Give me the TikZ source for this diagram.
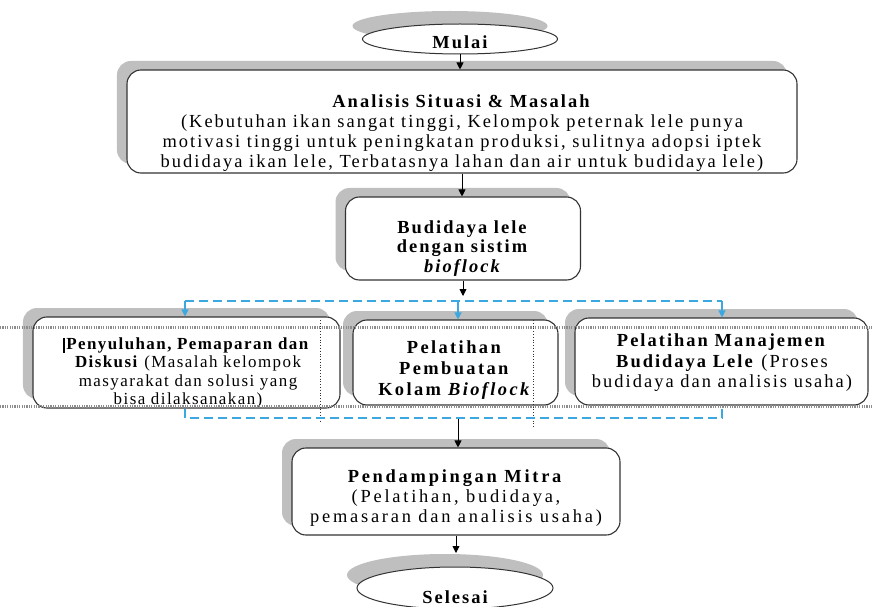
\documentclass[tikz,border=0pt]{standalone}
\usepackage{fontspec}
\setmainfont{Liberation Serif}[LetterSpace=11]
\usetikzlibrary{shapes.geometric,shadows,arrows.meta}
\definecolor{dblue}{HTML}{3CA8E0}
\definecolor{shad}{HTML}{BFBFBF}
\begin{document}
\begin{tikzpicture}[x=1bp,y=-1bp,
  shadowed/.style={general shadow={fill=shad, shadow xshift=-10bp, shadow yshift=9bp}},
  oshadowed/.style={general shadow={fill=shad, shadow xshift=-10bp, shadow yshift=13bp}},
  box/.style={draw=black!80, line width=1.1bp, rounded corners=14bp, fill=white, shadowed, inner sep=0pt},
  oval/.style={ellipse, draw=black!80, line width=1bp, fill=white, oshadowed, inner sep=0pt, font=\fontsize{18.5}{20}\selectfont\bfseries},
  txt/.style={align=center, inner sep=0pt, font=\fontsize{18.5}{20.3}\selectfont},
  arr/.style={-{Triangle[length=7bp,width=7bp]}, line width=0.9bp, black},
  barr/.style={-{Triangle[length=7bp,width=7bp]}, line width=1.2bp, dblue},
  bdash/.style={line width=1.2bp, dblue, dash pattern=on 9bp off 5bp},
  wgrid/.style={line width=3bp, draw=gray!90, dash pattern=on 1.2bp off 1.2bp},
  vgrid/.style={line width=0.8bp, draw=black!80, dotted},
  ]
\useasboundingbox (0,0) rectangle (872,607);

% shapes
\node[oval, minimum width=195bp, minimum height=30bp] (mulai) at (460,39) {\raisebox{-10bp}[0pt][0pt]{Mulai}};

\node[box, minimum width=670bp, minimum height=103bp] (ana) at (462,121.5) {};
\node[txt] (anat) at (462,133) {\textbf{Analisis Situasi \& Masalah}\\
(Kebutuhan ikan sangat tinggi, Kelompok peternak lele punya\\
motivasi tinggi untuk peningkatan produksi, sulitnya adopsi iptek\\
budidaya ikan lele, Terbatasnya lahan dan air untuk budidaya lele)};

\node[box, minimum width=235bp, minimum height=83bp] (bud) at (463,238.5) {};
\node[txt, font=\fontsize{18.5}{19.5}\selectfont] (budt) at (463,248.5) {\textbf{Budidaya lele}\\ \textbf{dengan sistim}\\ \textbf{\textit{bioflock}}};

\node[box, minimum width=307bp, minimum height=91bp] (pen) at (186.5,362.5) {};
\node[txt, font=\fontsize{17}{18.5}\selectfont\addfontfeatures{LetterSpace=8.5}] (pent) at (188,373) {\textbf{Penyuluhan, Pemaparan dan}\\
\textbf{Diskusi} (Masalah kelompok\\
masyarakat dan solusi yang\\
bisa dilaksanakan)};

\node[box, minimum width=205bp, minimum height=85bp] (pel) at (455.5,362.5) {};
\node[txt, font=\fontsize{18.5}{21}\selectfont\addfontfeatures{LetterSpace=13}] (pelt) at (455,370) {\textbf{Pelatihan}\\ \textbf{Pembuatan}\\ \textbf{Kolam \textit{Bioflock}}};

\node[box, minimum width=293bp, minimum height=87bp] (man) at (721.5,361.5) {};
\node[txt, font=\fontsize{18.5}{20.5}\selectfont] (mant) at (722,363) {\textbf{Pelatihan Manajemen}\\
\textbf{Budidaya Lele} (Proses\\
budidaya dan analisis usaha)};

\node[box, minimum width=328bp, minimum height=87bp] (pend) at (456,491.5) {};
\node[txt, font=\fontsize{18.5}{20.3}\selectfont\addfontfeatures{LetterSpace=15}] (pendt) at (456,498) {\textbf{Pendampingan Mitra}\\
(Pelatihan, budidaya,\\
pemasaran dan analisis usaha)};

\node[oval, minimum width=196bp, minimum height=42bp] (sel) at (455,588) {\raisebox{-15bp}[0pt][0pt]{Selesai}};

% word table grid lines
\draw[wgrid] (0,327) -- (872,327);
\draw[wgrid] (0,406) -- (872,406);
\draw[vgrid] (320,320) -- (320,423);
\draw[vgrid] (533,320) -- (533,428);
\draw[line width=2.2bp] (pent.north west) ++(-2,1) -- ++(0,15);

% connectors
\draw[arr] (mulai.south) -- (mulai.south |- ana.north);
\draw[arr] (ana.south) -- (ana.south |- bud.north);
\coordinate (jt) at (462,296);
\draw[arr] (bud.south) -- (bud.south |- jt);

\coordinate (tl) at (185,301);
\coordinate (tr) at (722,301);
\coordinate (tm) at (458,301);
\draw[bdash] (tl) -- (tr);
\draw[barr] (tl) -- (tl |- pen.north);
\draw[barr] (tm) -- (tm |- pel.north);
\draw[barr] (tr) -- (tr |- man.north);

\coordinate (bl) at (185,418);
\coordinate (br) at (722,418);
\draw[bdash] (bl |- pen.south) -- (bl) -- (br) -- (br |- man.south);
\coordinate (bm) at (458,419);
\draw[arr] (bm) -- (bm |- pend.north);
\coordinate (sm) at (456,553);
\draw[arr] (pend.south) -- (pend.south |- sm);
\end{tikzpicture}
\end{document}
